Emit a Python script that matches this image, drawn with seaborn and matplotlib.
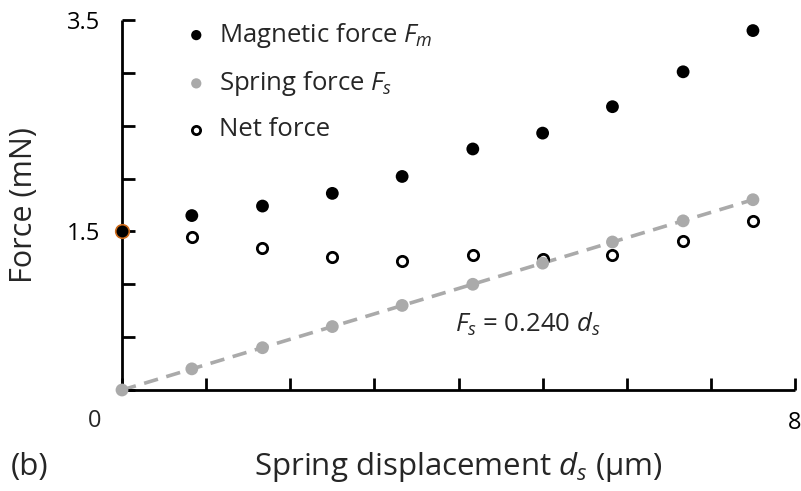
import matplotlib
matplotlib.use("Agg")
import matplotlib.pyplot as plt
import seaborn as sns
import pandas as pd

sns.set_style("white")
plt.rcParams["font.family"] = ["Open Sans", "DejaVu Sans"]
plt.rcParams["mathtext.fontset"] = "custom"
plt.rcParams["mathtext.rm"] = "Open Sans"
plt.rcParams["mathtext.it"] = "Open Sans:italic"

# Spring displacement (um) and measured forces (mN)
displacement = [0.0, 0.83, 1.67, 2.5, 3.33, 4.17, 5.0, 5.83, 6.67, 7.5]
magnetic_force = [1.5, 1.65, 1.74, 1.86, 2.02, 2.28, 2.43, 2.68, 3.01, 3.40]
spring_force = [0.0, 0.2, 0.4, 0.6, 0.8, 1.0, 1.2, 1.4, 1.6, 1.8]
net_force = [1.5, 1.45, 1.34, 1.26, 1.22, 1.28, 1.24, 1.28, 1.41, 1.60]

spring_constant = 0.240
fit_x = [0.0, 7.5]
fit_y = [spring_constant * v for v in fit_x]

y_ticks = [0, 0.5, 1.0, 1.5, 2.0, 2.5, 3.0, 3.5]
y_tick_labels = ["", "", "", "1.5", "", "", "", "3.5"]
x_ticks = [0, 1, 2, 3, 4, 5, 6, 7, 8]
x_tick_labels = ["", "", "", "", "", "", "", "", "8"]

df = pd.DataFrame({
    "d": displacement,
    "Fm": magnetic_force,
    "Fs": spring_force,
    "Fnet": net_force,
})

W, H = 801, 491
fig = plt.figure(figsize=(W / 100, H / 100), dpi=100)
ax = fig.add_axes([122 / W, 1 - 390 / H, 673 / W, 370 / H])

grey = "#aaaaaa"

# linear fit of the spring force
sns.lineplot(x=fit_x, y=fit_y, ax=ax, color=grey, lw=2.6,
             linestyle=(0, (4, 2.4)), zorder=2, legend=False)

sns.scatterplot(data=df.iloc[1:], x="d", y="Fnet", ax=ax, marker="o",
                s=55, facecolor="white", edgecolor="black", linewidth=2.0,
                zorder=3, clip_on=False, label="Net force")
sns.scatterplot(data=df, x="d", y="Fs", ax=ax, marker="o", s=85,
                color=grey, edgecolor="none", zorder=4, clip_on=False,
                label=r"Spring force $F_s$")
sns.scatterplot(data=df.iloc[1:], x="d", y="Fm", ax=ax, marker="o", s=85,
                color="black", edgecolor="none", zorder=5, clip_on=False,
                label=r"Magnetic force $F_m$")
# starting point, where magnetic and net force coincide
sns.scatterplot(data=df.iloc[:1], x="d", y="Fm", ax=ax, marker="o", s=95,
                color="black", edgecolor="#cc6a1a", linewidth=1.2,
                zorder=6, clip_on=False, legend=False)

ax.set_xlim(0, 8)
ax.set_ylim(0, 3.5)
ax.set_xticks(x_ticks)
ax.set_xticklabels(x_tick_labels)
ax.set_yticks(y_ticks)
ax.set_yticklabels(y_tick_labels)
ax.tick_params(bottom=True, left=True, direction="in", length=9, width=2,
               labelsize=17, colors="black")
ax.tick_params(axis="x", pad=15)
ax.tick_params(axis="y", pad=16)

for side in ("top", "right"):
    ax.spines[side].set_visible(False)
for side in ("left", "bottom"):
    ax.spines[side].set_linewidth(2)
    ax.spines[side].set_color("black")
    ax.spines[side].set_capstyle("butt")

ax.set_xlabel(r"Spring displacement $d_s$ (μm)", fontsize=22.5, labelpad=11)
ax.set_ylabel("Force (mN)", fontsize=22, labelpad=20)

ax.text(-27 / 84.1, -0.29, "0", fontsize=17, ha="center", va="center",
        transform=ax.transData)
fig.text(30 / W, 1 - 467 / H, "(b)", fontsize=22.5, ha="center", va="center")

ax.text(4.82, 0.62, r"$F_s$ = 0.240 $d_s$", fontsize=18.5, ha="center",
        va="center")

handles, labels = ax.get_legend_handles_labels()
order = [2, 1, 0]
leg = ax.legend([handles[i] for i in order], [labels[i] for i in order],
                loc="upper left", bbox_to_anchor=(168 / W, 1 - 8 / H),
                bbox_transform=fig.transFigure, frameon=False, fontsize=18.5,
                handletextpad=0.3, labelspacing=0.75, borderpad=0,
                handlelength=1.2, markerscale=0.8)

fig.savefig("out.png", dpi=100)
